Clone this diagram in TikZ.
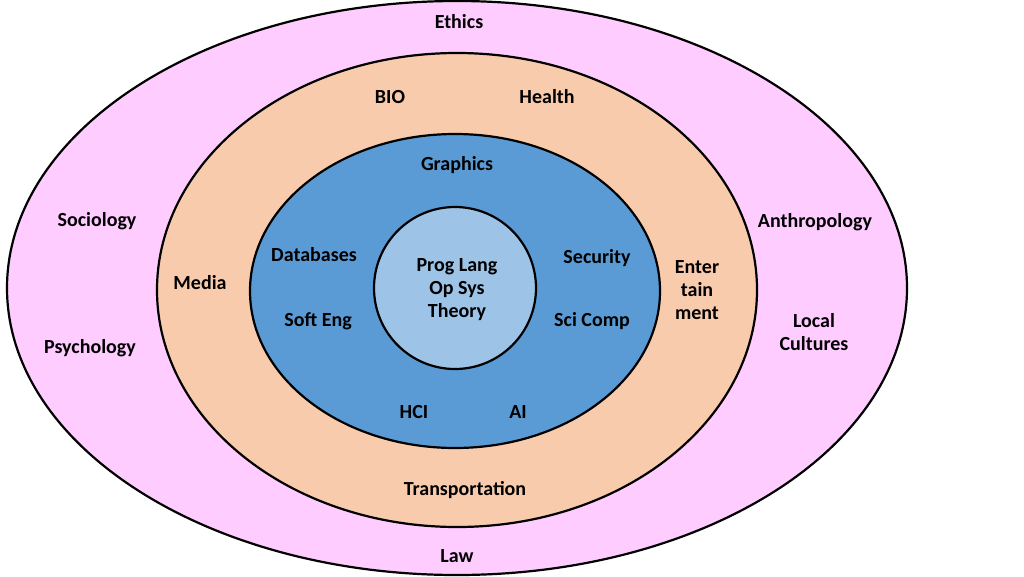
\documentclass[tikz,border=0pt]{standalone}
\usepackage{fontspec}
\setmainfont{Carlito}
\begin{document}
\begin{tikzpicture}[x=1pt,y=-1pt,line width=2.2pt,
  lbl/.style={font=\bfseries\fontsize{20}{23}\selectfont,align=center,inner sep=0pt}]
\useasboundingbox (0,0) rectangle (1024,576);
\definecolor{pinkc}{HTML}{FFCCFF}
\definecolor{peach}{HTML}{F8CBAD}
\definecolor{blue1}{HTML}{5B9BD5}
\definecolor{blue2}{HTML}{9DC3E6}
\draw[fill=pinkc] (457,288) ellipse [x radius=450, y radius=287];
\draw[fill=peach] (457,290) ellipse [x radius=300, y radius=237];
\draw[fill=blue1] (455,291) ellipse [x radius=205, y radius=157];
\draw[fill=blue2] (455,288) circle [radius=81];
\node[lbl] (ethics) at (459,22) {Ethics};
\node[lbl] (law) at (457,556) {Law};
\node[lbl] (soc) at (97,221) {Sociology};
\node[lbl] (psy) at (90,348) {Psychology};
\node[lbl] (anth) at (815,222) {Anthropology};
\node[lbl] (local) at (814,332) {Local\\Cultures};
\node[lbl] (bio) at (390,97) {BIO};
\node[lbl] (health) at (547,97) {Health};
\node[lbl] (media) at (200,283) {Media};
\node[lbl] (ent) at (697,290) {Enter\\tain\\ment};
\node[lbl] (trans) at (465,490) {Transportation};
\node[lbl] (gfx) at (457,165) {Graphics};
\node[lbl] (db) at (314,255) {Databases};
\node[lbl] (se) at (318,321) {Soft Eng};
\node[lbl] (sec) at (597,258) {Security};
\node[lbl] (sci) at (592,321) {Sci Comp};
\node[lbl] (hci) at (414,412) {HCI};
\node[lbl] (ai) at (518,412) {AI};
\node[lbl] (core) at (457,290) {Prog Lang\\Op Sys\\Theory};
\end{tikzpicture}
\end{document}
